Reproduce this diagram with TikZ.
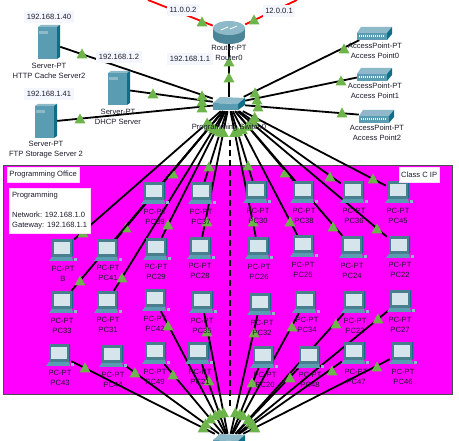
\documentclass[tikz,border=0pt]{standalone}
\usepackage{fontspec}
\setmainfont{Liberation Sans}
\usetikzlibrary{backgrounds,calc}

\definecolor{officepink}{HTML}{FF00FF}
\definecolor{lightgreen}{HTML}{6DB54A}
\definecolor{iplavender}{HTML}{F4F6FE}
\definecolor{tealfront}{HTML}{5A9DB2}
\definecolor{tealtop}{HTML}{8DB9C8}
\definecolor{tealside}{HTML}{0F6F88}
\definecolor{screenblue}{HTML}{D6E5EC}
\definecolor{labelink}{HTML}{1C1C2C}

\newcommand{\linklight}[1]{\fill[lightgreen] (#1) ++(-5.5,4.5) -- ++(11,0) -- ++(-5.5,-10) -- cycle;}

% name/x/y/label x/label y/switch/light x/light y
\newcommand{\pclist}{B/62/250/63/274/topsw/83/233,
  PC41/107/250/108/273/topsw/126/228, PC39/154/193/155/217/topsw/173/174,
  PC37/201/193/201/217/topsw/209/167, PC29/156/249/156/272/topsw/168/225,
  PC28/200/248/200/271/topsw/207/222, PC33/62/302/62/326/topsw/80/281,
  PC31/107/302/108/325/topsw/122/278, PC30/256/192/258/216/topsw/248/166,
  PC38/303/192/304/216/topsw/285/173, PC36/353/192/354/216/topsw/330/177,
  PC45/398/192/398/216/topsw/373/179, PC26/258/248/259/272/topsw/253/222,
  PC25/303/246/303/270/topsw/290/222, PC24/352/247/352/271/topsw/333/227,
  PC22/399/247/400/270/topsw/377/229,
  PC42/155/300/155/324/botsw/168/326, PC35/202/302/202/326/botsw/207/332,
  PC43/59/355/60/378/botsw/85/368, PC44/112/356/113/380/botsw/135/373,
  PC49/155/353/155/377/botsw/173/375, PC21/198/353/200/377/botsw/209/381,
  PC32/260/304/262/328/botsw/254/333, PC34/305/302/307/325/botsw/292/327,
  PC23/354/302/355/326/botsw/336/324, PC27/400/301/400/325/botsw/378/319,
  PC20/263/357/265/380/botsw/252/383, PC48/309/357/310/380/botsw/290/378,
  PC47/354/353/356/377/botsw/332/371, PC46/402/353/403/377/botsw/377/367}

\tikzset{
  lbl/.style={align=center,inner sep=0pt,text=labelink,font=\fontsize{7.6}{10}\selectfont},
  iplbl/.style={lbl,fill=iplavender,inner xsep=2.5pt,inner ysep=3.5pt},
  notebox/.style={lbl,align=left,fill=white,draw=white!85!officepink,anchor=north west,inner xsep=2pt},
  hitbox/.style={minimum width=#1,minimum height=14pt,inner sep=0pt},
  link/.style={black,line width=1.8pt},
  wan/.style={red,line width=1.8pt},
  pcicon/.pic={
    \fill[tealfront] (-13,11) -- (-10,7) -- (10,7) -- (11,11) -- cycle;
    \fill[tealside] (10,-11) -- (11,-10) -- (11,6) -- (10,7) -- cycle;
    \fill[tealfront!80!black] (-10,-11) rectangle (10,7);
    \fill[screenblue] (-8,-8) rectangle (8,4);
    \fill[tealtop] (12,8) rectangle (15,11);
  },
  servericon/.pic={
    \fill[tealtop] (-11,-16) -- (-8,-18) -- (11,-18) -- (8,-16) -- cycle;
    \fill[tealside] (8,-16) -- (11,-18) -- (11,14) -- (8,16) -- cycle;
    \fill[tealfront] (-11,-16) rectangle (8,16);
    \fill[tealtop] (-10,-12) rectangle (-1,-9);
  },
  switchicon/.pic={
    \fill[tealtop] (-16,-1) -- (-9,-7) -- (16,-6) -- (9,0) -- cycle;
    \fill[tealside] (9,0) -- (16,-6) -- (16,1) -- (9,6) -- cycle;
    \fill[tealfront] (-16,-1) -- (9,0) -- (9,6) -- (-16,6) -- cycle;
  },
  apicon/.pic={
    \fill[tealtop] (-17,0) -- (-13,-6) -- (18,-6) -- (13,0) -- cycle;
    \fill[tealside] (13,0) -- (18,-6) -- (18,1) -- (13,7) -- cycle;
    \fill[tealfront] (-17,0) rectangle (13,7);
    \draw[white,line width=2pt,dash pattern=on 1pt off 1pt] (-15,3.5) -- (11,3.5);
  },
  routericon/.pic={
    \fill[tealfront!85!black] (0,5) ellipse[x radius=16,y radius=7];
    \fill[tealfront!85!black] (-16,-4) rectangle (16,5);
    \fill[tealtop] (0,-4) ellipse[x radius=16,y radius=7];
    \draw[white,line width=.8pt] (-8,-2) -- (-1,-5) (1,-3) -- (8,-6);
  }
}

\begin{document}
\begin{tikzpicture}[x=1pt,y=-1pt]
    \clip (0,0) rectangle (459,441);

    \begin{scope}[on background layer]
        \fill[white] (0,0) rectangle (459,441);
        \filldraw[fill=officepink,draw=black!70,line width=.8pt] (3,165) rectangle (452,394);
    \end{scope}

    \coordinate (redl) at (148,0);
    \coordinate (redr) at (297,0);
    \coordinate (dashtop) at (230,140);
    \coordinate (dashbot) at (230,408);

    \node[hitbox=32pt,minimum height=20pt] (router) at (229,32) {};
    \pic at (router) {routericon};
    \node[hitbox=32pt] (topsw) at (229,104) {};
    \pic at (topsw) {switchicon};
    \node[hitbox=32pt] (botsw) at (229,441) {};
    \pic at (botsw) {switchicon};

    \node[hitbox=22pt,minimum height=36pt] (http) at (49,43) {};
    \pic at (http) {servericon};
    \node[hitbox=22pt,minimum height=36pt] (dhcp) at (119,89) {};
    \pic at (dhcp) {servericon};
    \node[hitbox=22pt,minimum height=36pt] (ftp) at (46,122) {};
    \pic at (ftp) {servericon};
    \node[hitbox=34pt] (apzero) at (374,33) {};
    \pic at (apzero) {apicon};
    \node[hitbox=34pt] (apone) at (374,74) {};
    \pic at (apone) {apicon};
    \node[hitbox=34pt] (aptwo) at (376,116) {};
    \pic at (aptwo) {apicon};

    \foreach \nm/\x/\y/\lx/\ly/\sw/\tx/\ty in \pclist {
        \node[minimum width=24pt,minimum height=22pt,inner sep=0pt] (\nm) at (\x,\y) {};
        \pic at (\nm) {pcicon};
        \node[lbl] (\nm-lbl) at (\lx,\ly) {PC-PT\\\nm};
    }

    \begin{scope}[on background layer]
        \draw[wan] (router) -- (redl);
        \draw[wan] (router) -- (redr);
        \draw[black,line width=1.5pt,dash pattern=on 6pt off 4pt] (dashtop) -- (dashbot);
        \foreach \nm/\x/\y/\lx/\ly/\sw/\tx/\ty in \pclist {
            \draw[link] (\sw) -- (\nm);
            \linklight{\tx,\ty}
            \linklight{$(\sw)!29pt!(\nm)$}
        }
        \draw[link] (topsw) -- (router);
        \draw[link] (topsw) -- (http);
        \draw[link] (topsw) -- (dhcp);
        \draw[link] (topsw) -- (ftp);
        \draw[link] (topsw) -- (apzero);
        \draw[link] (topsw) -- (apone);
        \draw[link] (topsw) -- (aptwo);
        \foreach \tx/\ty in {202/22,254/20,229/62,229/78,82/54,153/94,80/119,344/49,341/81,342/113,
            202/96,202/102,202/108,255/93,257/100,258/107} {
            \linklight{\tx,\ty}
        }
    \end{scope}

    \node[iplbl] (ipwanl) at (183,10) {11.0.0.2};
    \node[iplbl] (ipwanr) at (279,11) {12.0.0.1};
    \node[iplbl] (iprouter) at (190,59) {192.168.1.1};
    \node[iplbl] (ipdhcp) at (119,57) {192.168.1.2};
    \node[iplbl] (iphttp) at (49,17) {192.168.1.40};
    \node[iplbl] (ipftp) at (49,94) {192.168.1.41};

    \node[lbl] (routerlbl) at (229,53) {Router-PT\\Router0};
    \node[lbl] (topswlbl) at (229,128) {Programming Switch0};
    \node[lbl] (httplbl) at (49,71) {Server-PT\\HTTP Cache Server2};
    \node[lbl] (dhcplbl) at (118,117) {Server-PT\\DHCP Server};
    \node[lbl] (ftplbl) at (46,150) {Server-PT\\FTP Storage Server 2};
    \node[lbl] (apzerolbl) at (375,51) {AccessPoint-PT\\Access Point0};
    \node[lbl] (aponelbl) at (375,91) {AccessPoint-PT\\Access Point1};
    \node[lbl] (aptwolbl) at (377,133) {AccessPoint-PT\\Access Point2};

    \node[notebox,minimum width=72pt,minimum height=15pt] (office) at (7,167) {Programming Office};
    \node[notebox,minimum width=81pt,minimum height=45pt] (prognote) at (9,188) {Programming\\ \mbox{}\\Network: 192.168.1.0\\Gateway: 192.168.1.1};
    \node[notebox,minimum width=39pt,minimum height=15pt] (classnote) at (399,167) {Class C IP};
\end{tikzpicture}
\end{document}
